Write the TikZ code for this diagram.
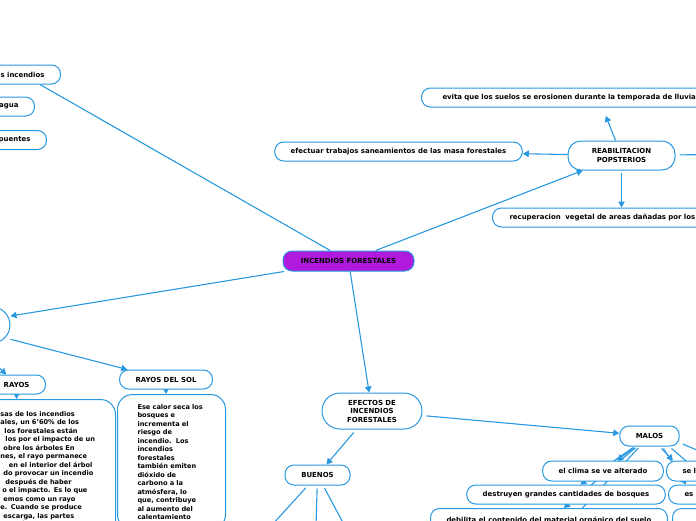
\documentclass[tikz,border=0pt]{standalone}
\usepackage{fontspec}
\setmainfont{DejaVu Sans}
\usetikzlibrary{arrows.meta,calc,backgrounds}
\definecolor{mmblue}{RGB}{40,152,224}
\definecolor{mmpurple}{RGB}{176,26,220}
\tikzset{
  box/.style={draw=mmblue, line width=1pt, fill=white, rounded corners=9pt,
    inner xsep=16pt, inner ysep=0pt, minimum height=19pt,
    font=\fontsize{6.95}{8.5}\selectfont\bfseries, text=black},
  txtbox/.style={box, align=left, rounded corners=15pt, inner ysep=2.5pt,
    font=\fontsize{6.6}{8.5}\selectfont\bfseries},
  conn/.style={draw=mmblue, line width=1.1pt},
  arr/.style={conn, -{Triangle[length=6pt,width=6.5pt]}},
}
\begin{document}
\begin{tikzpicture}[x=1pt,y=-1pt]
\useasboundingbox (0,0) rectangle (696,520);
\clip (0,0) rectangle (696,520);

% nodes
\node[box, anchor=east] (inc) at (61,74.5) {s incendios};
\node[box, anchor=east] (agua) at (35,106.5) {agua};
\node[box, anchor=east] (puen) at (47,140) {puentes};
\node[box, fill=mmpurple, minimum width=131pt, minimum height=20pt] (cen) at (348.5,261) {INCENDIOS FORESTALES};
\node[box, minimum width=107pt, minimum height=29pt, rounded corners=13pt, align=center] (reab) at (621.5,155.5) {REABILITACION\\POPSTERIOS};
\node[box, minimum width=247pt] (efec) at (398.5,151.5) {efectuar trabajos saneamientos de las masa forestales};
\node[box, anchor=west, inner xsep=21pt, text width=312pt, align=left] (evita) at (421,97.5) {evita que los suelos se erosionen durante la temporada de lluvia};
\node[box, anchor=west, inner xsep=17pt, text width=224pt, align=left] (recup) at (492,217.5) {recuperacion\ \ vegetal de areas dañadas por los};

\node[box, minimum width=110pt, minimum height=36pt, rounded corners=18pt] (lnode) at (-45,325) {};
\node[box, anchor=east] (rayos) at (46,384.5) {RAYOS};
\node[txtbox, anchor=north west, text width=100pt, inner xsep=17.5pt, minimum height=140pt] (rtxt) at (-20,399) {%
\hspace*{2.5pt}sas de los incendios\\
\hspace*{2.5pt}ales, un 6’60\% de los\\
\hspace*{6.5pt}los forestales están\\
\hspace*{7.5pt}los por el impacto de un\\
\hspace*{5.5pt}obre los árboles En\\
\hspace*{2.5pt}nes, el rayo permanece\\
\hspace*{11pt}en el interior del árbol\\
\hspace*{5.5pt}do provocar un incendio\\
\hspace*{7.5pt}después de haber\\
\hspace*{4.5pt}o el impacto. Es lo que\\
\hspace*{5.5pt}emos como un rayo\\
\hspace*{2.5pt}e. Cuando se produce\\
\hspace*{5.5pt}escarga, las partes\\
\hspace*{2.5pt}s del árbol adquieren};
\node[box, minimum width=92pt] (rds) at (166,379.5) {RAYOS DEL SOL};
\node[txtbox, anchor=north west, text width=75pt, inner xsep=16.5pt, minimum height=135pt] (rdstxt) at (117,394) {%
\hspace*{3.5pt}Ese calor seca los\\
\hspace*{3.5pt}bosques e\\
\hspace*{3.5pt}incrementa el\\
\hspace*{3.5pt}riesgo de\\
\hspace*{3.5pt}incendio.\ \ Los\\
\hspace*{3.5pt}incendios\\
\hspace*{3.5pt}forestales\\
\hspace*{3.5pt}también emiten\\
\hspace*{3.5pt}dióxido de\\
\hspace*{3.5pt}carbono a la\\
\hspace*{3.5pt}atmósfera, lo\\
\hspace*{3.5pt}que, contribuye\\
\hspace*{3.5pt}al aumento del\\
\hspace*{3.5pt}calentamiento};

\node[box, minimum width=100pt, minimum height=36pt, rounded corners=18pt, align=center] (efectos) at (372,411) {EFECTOS DE\\INCENDIOS\\FORESTALES};
\node[box, minimum width=65pt, minimum height=20pt] (buenos) at (317.5,475) {BUENOS};
\node[box, minimum width=59pt, minimum height=20pt] (malos) at (649.5,436) {MALOS};
\node[box, minimum width=120pt, minimum height=20pt] (clima) at (603,471) {el clima se ve alterado};
\node[box, minimum width=198pt] (destr) at (566,494.5) {destruyen grandes cantidades de bosques};
\node[box, anchor=north west, minimum width=236pt, minimum height=24pt] (debil) at (430,508) {debilita el contenido del material orgánico del suelo};
\node[box, anchor=west, text width=80pt, align=left, minimum height=20pt] (sel) at (666,471) {se l};
\node[box, anchor=west, text width=80pt, align=left] (es) at (668,494.5) {es};
\node[box, anchor=north west, text width=80pt, align=left, minimum height=24pt] (r3) at (672,508) {};

% free ends off the page
\coordinate (reabR) at (760,154);
\coordinate (b1) at (240,560);
\coordinate (b2) at (315,560);
\coordinate (b3) at (363,560);
\coordinate (m4) at (534,560);
\coordinate (mr1) at (744,510);
\coordinate (mr2) at (760,477);

\begin{pgfonlayer}{background}
\draw[conn] (cen) -- (inc);
\draw[arr] (cen) -- (reab);
\draw[arr] (cen) -- (lnode);
\draw[arr] (cen) -- (efectos);
\draw[arr] (reab) -- (efec);
\draw[arr, shorten >=9pt] (reab) -- (evita);
\draw[arr, shorten <=2pt] (reab) -- (recup);
\draw[conn, shorten <=4pt] (reab) -- (reabR);
\draw[arr] (lnode) -- (rds);
\draw[arr] (lnode) -- (rayos);
\draw[arr] (rayos.south) -- (rayos.south |- rtxt.north);
\draw[arr] (rds.south) -- (rds.south |- rdstxt.north);
\draw[arr, shorten <=4pt] (efectos) -- (malos);
\draw[arr, shorten <=4pt] (efectos) -- (buenos);
\draw[conn, shorten <=3pt] (buenos) -- (b1);
\draw[conn, shorten <=3pt] (buenos) -- (b2);
\draw[conn, shorten <=3pt] (buenos) -- (b3);
\draw[arr, shorten <=2pt] (malos) -- (clima);
\draw[arr, shorten <=2pt] (malos) -- (destr);
\draw[arr, shorten <=2pt] (malos) -- (debil);
\draw[conn, shorten <=2pt] (malos) -- (m4);
\draw[arr] ($(malos.south)+(12,2)$) -- ($(sel.north west)+(7,0)$);
\draw[arr] ($(malos.south)+(14,2)$) -- ($(es.north west)+(18,0)$);
\draw[conn] ($(malos.south)+(22,2)$) -- (mr1);
\draw[conn] ($(malos.east)+(3,8)$) -- (mr2);
\end{pgfonlayer}
\end{tikzpicture}
\end{document}
